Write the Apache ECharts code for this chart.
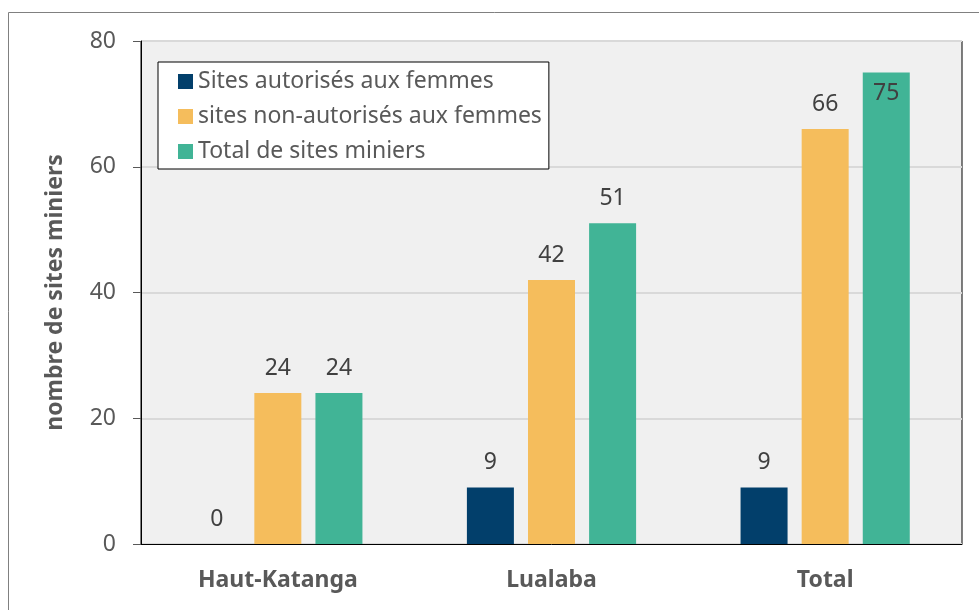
<!DOCTYPE html>
<html><head><meta charset="utf-8">
<script src="https://cdn.jsdelivr.net/npm/echarts@6/dist/echarts.min.js"></script>
<style>html,body{margin:0;padding:0;background:#fff}#c{width:979px;height:610px}</style>
</head><body><div id="c"></div>
<script>
const categories = ['Haut-Katanga', 'Lualaba', 'Total'];
const seriesNames = ['Sites autorisés aux femmes', 'sites non-autorisés aux femmes', 'Total de sites miniers'];
const autorises = [0, 9, 9];
const nonAutorises = [24, 42, 66];
const totalSites = [24, 51, 75];
const yTicks = [0, 20, 40, 60, 80];
const colors = ['#023f6b', '#f5bd5c', '#41b496'];

const font = 'Noto Sans';
const chart = echarts.init(document.getElementById('c'));

function mk(name, data, color) {
  return {
    name: name, type: 'bar', data: data.map(v => v >= 75 ? {value: v, label: {position: 'insideTop', distance: 10}} : v),
    barWidth: 47, barGap: '30%',
    itemStyle: {color: color},
    label: {show: true, position: 'top', distance: 13, fontFamily: font, fontSize: 23, color: '#404040'}
  };
}

chart.setOption({
  animation: false,
  graphic: [{type: 'rect', shape: {x: 8.5, y: 12.5, width: 1200, height: 800}, style: {fill: 'none', stroke: '#808080', lineWidth: 1}, z: -10}],
  grid: {left: 141, right: 17, top: 41, bottom: 66, show: true, backgroundColor: '#f0f0f0', borderColor: '#000', borderWidth: 1},
  legend: {
    left: 158, top: 62, orient: 'vertical',
    backgroundColor: '#fff', borderColor: '#000', borderWidth: 1,
    padding: [7, 7, 5, 20], itemGap: 10, itemWidth: 15, itemHeight: 15,
    icon: 'rect',
    textStyle: {fontFamily: font, fontSize: 23, color: '#595959', lineHeight: 25}
  },
  xAxis: {
    type: 'category', data: categories,
    axisLine: {lineStyle: {color: '#000'}},
    axisTick: {show: false},
    axisLabel: {fontFamily: font, fontSize: 23, fontWeight: 'bold', color: '#595959', margin: 25}
  },
  yAxis: {
    type: 'value', min: yTicks[0], max: yTicks[yTicks.length - 1], interval: 20,
    name: 'nombre de sites miniers', nameLocation: 'middle', nameGap: 74, nameRotate: 90,
    nameTextStyle: {fontFamily: font, fontSize: 23, fontWeight: 'bold', color: '#595959'},
    axisLine: {show: true, lineStyle: {color: '#000'}},
    axisTick: {show: true, length: 8, lineStyle: {color: '#595959'}},
    axisLabel: {fontFamily: font, fontSize: 23, color: '#595959', margin: 25},
    splitLine: {lineStyle: {color: '#d9d9d9', width: 2}}
  },
  series: [
    mk(seriesNames[0], autorises, colors[0]),
    mk(seriesNames[1], nonAutorises, colors[1]),
    mk(seriesNames[2], totalSites, colors[2])
  ]
});
</script></body></html>
